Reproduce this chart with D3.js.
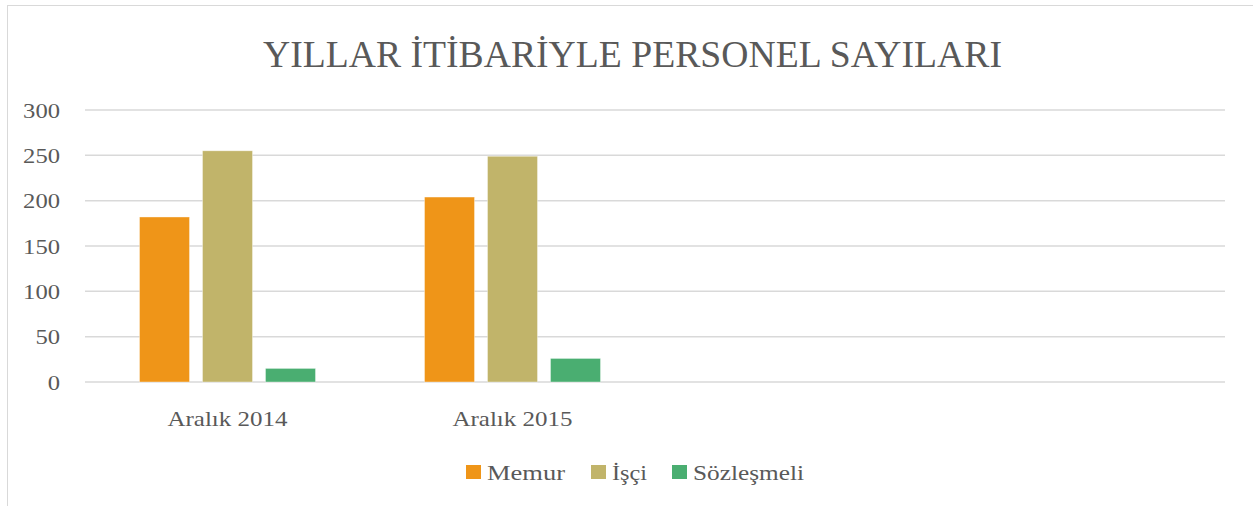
<!DOCTYPE html>
<html><head><meta charset="utf-8">
<script src="https://cdn.jsdelivr.net/npm/d3@7"></script>
<style>html,body{margin:0;padding:0;background:#fff;}svg{display:block;}</style>
</head><body>
<script>
const title = "YILLAR İTİBARİYLE PERSONEL SAYILARI";
const categories = ["Aralık 2014", "Aralık 2015", " ", "  "];
const seriesNames = ["Memur", "İşçi", "Sözleşmeli"];
const memur = [182, 204, null, null];
const isci = [255, 249, null, null];
const sozlesmeli = [15, 26, null, null];
const yTicks = [0, 50, 100, 150, 200, 250, 300];
const colors = ["#EF9518", "#C1B46A", "#4AAE71"];

const series = [memur, isci, sozlesmeli];
const W = 1253, H = 506;
const font = "'Liberation Serif', 'DejaVu Serif', serif";
const txt = "#595959";

const svg = d3.select("body").append("svg").attr("width", W).attr("height", H);
svg.append("rect").attr("width", W).attr("height", H).attr("fill", "#fff");
svg.append("rect").attr("x", 7.5).attr("y", 5.5).attr("width", W).attr("height", H)
  .attr("fill", "none").attr("stroke", "#D9D9D9").attr("stroke-width", 1);

const m = {left: 85, right: 1225, top: 110, bottom: 382};
const x = d3.scaleBand().domain(categories).range([m.left, m.right]).paddingInner(0).paddingOuter(0);
const y = d3.scaleLinear().domain([0, 300]).range([m.bottom, m.top]);
const groupW = 176;
const xs = d3.scaleBand().domain(seriesNames).range([0, groupW]).paddingInner(0.206).paddingOuter(0);

// gridlines
svg.append("g").selectAll("line").data(yTicks).join("line")
  .attr("x1", m.left).attr("x2", m.right)
  .attr("y1", d => y(d)).attr("y2", d => y(d))
  .attr("stroke", "#D9D9D9").attr("stroke-width", 1.5);

// y axis labels
const yAxis = d3.axisLeft(y).tickValues(yTicks).tickSize(0).tickPadding(0);
const gy = svg.append("g").attr("transform", `translate(60,0)`).call(yAxis);
gy.select(".domain").remove();
gy.selectAll("text").attr("font-family", font).attr("font-size", 21).attr("fill", txt).attr("dy", "0.34em")
  .attr("textLength", d => String(d).length * 12.3).attr("lengthAdjust", "spacingAndGlyphs");

// x axis labels
const xAxis = d3.axisBottom(x).tickSize(0).tickPadding(0);
const gx = svg.append("g").attr("transform", `translate(0,${m.bottom})`).call(xAxis);
gx.select(".domain").remove();
gx.selectAll("text").attr("font-family", font).attr("font-size", 21).attr("fill", txt).attr("dy", "0").attr("y", 44)
  .attr("textLength", d => d.trim() ? 120 : null).attr("lengthAdjust", "spacingAndGlyphs");

// bars
series.forEach((vals, si) => {
  svg.append("g").selectAll("rect").data(categories.map((c, i) => ({c, v: vals[i]})).filter(d => d.v != null))
    .join("rect")
    .attr("x", d => x(d.c) + (x.bandwidth() - groupW) / 2 + xs(seriesNames[si]))
    .attr("width", xs.bandwidth())
    .attr("y", d => y(d.v))
    .attr("height", d => y(0) - y(d.v))
    .attr("fill", colors[si])
    .attr("stroke", "#fff").attr("stroke-opacity", 0.5).attr("stroke-width", 0.75);
});

// title
svg.append("text").attr("x", 632.5).attr("y", 67).attr("text-anchor", "middle")
  .attr("font-family", font).attr("font-size", 37).attr("fill", txt)
  .attr("textLength", 739).attr("lengthAdjust", "spacingAndGlyphs")
  .text(title);

// legend
const legendX = [466, 591, 672];
const legendLen = [78, 35, 111];
const lg = svg.append("g");
seriesNames.forEach((n, i) => {
  lg.append("rect").attr("x", legendX[i]).attr("y", 465).attr("width", 15).attr("height", 14).attr("fill", colors[i]);
  lg.append("text").attr("x", legendX[i] + 21).attr("y", 480)
    .attr("font-family", font).attr("font-size", 21).attr("fill", txt)
    .attr("textLength", legendLen[i]).attr("lengthAdjust", "spacingAndGlyphs").text(n);
});
</script>
</body></html>
